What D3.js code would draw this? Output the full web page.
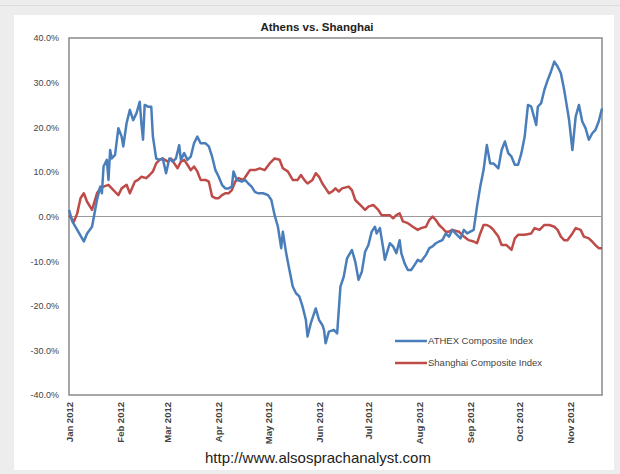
<!DOCTYPE html>
<html>
<head>
<meta charset="utf-8">
<script src="https://cdn.jsdelivr.net/npm/d3@7"></script>
<style>
  body { margin: 0; background: #ededed; }
  svg { display: block; }
</style>
</head>
<body>
<svg width="620" height="474"></svg>
<script>
// data: day offset from 1 Jan 2012, cumulative change in %
const athexDay = [0,2,5,9,11,14,17,19,20,21,23,24,25,26,28,30,32,33,35,37,39,41,43,44,45,46,48,50,51,53,55,57,59,61,63,65,67,68,70,72,74,76,78,80,83,85,87,89,91,93,95,97,99,100,102,105,107,109,111,113,115,118,121,123,125,127,129,130,132,134,136,138,140,142,144,145,147,150,152,154,155,156,158,161,163,165,167,169,172,174,176,178,180,182,184,186,187,189,191,192,195,197,199,201,202,204,206,208,210,212,214,217,219,221,223,225,227,229,231,233,235,238,240,242,244,246,248,250,252,254,256,258,261,263,265,267,269,271,273,275,277,279,281,284,285,287,289,291,293,295,297,299,301,303,304,306,308,310,312,314,316,318,320,322,324];
const athexVal = [1.5,-1.1,-3.0,-5.6,-3.8,-2.3,3.7,6.7,5.2,11.2,12.7,8.2,14.9,13.0,13.8,19.8,17.9,15.7,20.9,23.9,21.6,23.1,25.7,20.9,17.2,25.0,24.6,24.6,17.9,13.0,12.7,13.0,9.7,13.0,12.3,13.0,16.0,12.7,14.2,12.7,13.4,16.4,17.9,16.4,16.4,15.7,13.4,10.4,8.9,7.1,6.3,6.3,6.7,10.1,8.2,7.8,8.2,7.4,6.7,5.5,5.2,5.2,4.8,3.7,0.3,-2.3,-7.1,-3.4,-8.2,-12.0,-15.7,-17.2,-17.9,-20.2,-23.2,-26.9,-23.9,-20.6,-23.2,-24.3,-25.4,-28.4,-25.8,-25.4,-26.2,-15.7,-13.5,-9.4,-7.5,-10.1,-14.2,-12.4,-7.9,-6.4,-3.4,-2.3,-3.8,-2.6,-7.1,-9.7,-6.0,-6.7,-8.2,-5.3,-8.2,-10.5,-12.0,-12.0,-10.9,-9.7,-10.1,-8.6,-7.1,-6.7,-6.0,-5.6,-5.3,-3.8,-4.5,-3.0,-3.8,-4.9,-3.0,-3.8,-3.4,-3.0,2.2,6.7,10.4,16.0,11.9,11.9,10.8,14.9,16.8,14.2,13.4,11.6,11.6,14.2,17.9,25.0,24.6,20.5,24.6,25.4,28.4,30.6,32.5,34.7,33.6,32.1,28.4,23.9,21.6,14.9,22.4,25.0,21.3,19.8,17.2,18.6,19.4,21.3,24.2];

const shanghaiDay = [0,3,5,7,9,11,14,17,19,21,24,27,30,32,35,37,40,42,44,47,49,51,53,55,57,60,62,64,66,68,70,72,74,76,78,80,83,85,87,89,91,93,95,97,99,101,103,106,108,110,113,116,119,122,125,128,130,133,136,139,141,143,145,148,150,152,154,156,158,160,162,164,166,170,172,174,177,180,182,185,188,190,192,195,197,199,201,203,206,209,212,214,217,219,221,223,225,227,229,231,233,237,240,243,246,248,250,252,254,256,258,261,263,266,269,271,273,277,281,283,286,289,292,295,297,299,301,303,306,308,311,313,316,318,320,322,324];
const shanghaiVal = [0.3,-1.1,0.7,4.1,5.2,3.3,1.5,5.2,6.3,6.7,7.1,5.9,4.8,6.3,7.1,5.2,7.8,8.2,8.9,8.6,9.3,10.1,11.9,12.7,13.0,12.3,13.0,11.9,10.8,12.3,12.7,11.6,10.4,11.2,10.1,8.2,8.2,7.8,4.5,4.1,4.1,4.8,5.2,5.2,5.9,7.8,8.6,8.2,9.3,10.4,10.4,10.8,10.4,11.9,13.0,12.7,10.8,10.1,8.2,8.2,9.3,8.2,7.4,8.2,9.7,8.9,7.4,6.3,5.2,5.6,6.3,5.6,6.3,6.7,5.9,3.7,2.6,1.5,2.2,2.6,1.5,0.3,0.3,0.3,-0.4,0.3,0.7,-1.1,-1.5,-2.3,-3.0,-2.6,-2.3,-0.8,0.0,-0.8,-1.9,-2.6,-3.4,-3.4,-3.0,-3.4,-4.5,-5.3,-5.6,-6.0,-3.8,-1.9,-1.9,-2.3,-3.0,-4.5,-6.4,-6.4,-7.5,-4.9,-4.1,-4.1,-3.8,-2.6,-3.0,-1.9,-1.9,-2.3,-3.0,-4.5,-5.3,-5.3,-3.8,-2.6,-3.0,-4.5,-4.9,-5.6,-6.4,-7.1,-7.1];

const yTicks = [40,30,20,10,0,-10,-20,-30,-40];
const monthLabels = ["Jan 2012","Feb 2012","Mar 2012","Apr 2012","May 2012","Jun 2012","Jul 2012","Aug 2012","Sep 2012","Oct 2012","Nov 2012"];
const seriesNames = ["ATHEX Composite Index","Shanghai Composite Index"];
const seriesColors = ["#4a7ebb","#be4b48"];

const start = new Date(2012,0,1);
const toDate = d => d3.timeDay.offset(start, d);

const svg = d3.select('svg');
const font = '"Liberation Sans", Arial, sans-serif';

// chart background
svg.append('rect').attr('x',14).attr('y',15).attr('width',600).attr('height',455).attr('fill','#fff');
svg.append('line').attr('x1',0).attr('x2',620).attr('y1',5.5).attr('y2',5.5).attr('stroke','#dcdcdc');

const pLeft = 69, pRight = 602, pTop = 38, pBottom = 395;

const x = d3.scaleTime().domain([start, toDate(324)]).range([pLeft, pRight]);
const y = d3.scaleLinear().domain([-40,40]).range([pBottom, pTop]);

// plot frame
svg.append('rect')
    .attr('x',pLeft).attr('y',pTop).attr('width',pRight-pLeft).attr('height',pBottom-pTop)
    .attr('fill','#fff').attr('stroke','#8a8a8a').attr('stroke-width',1.5);

// zero line
svg.append('line')
    .attr('x1',pLeft).attr('x2',pRight).attr('y1',y(0)).attr('y2',y(0))
    .attr('stroke','#9a9a9a').attr('stroke-width',1);

// y axis labels
const yAxis = d3.axisLeft(y).tickValues(yTicks).tickSize(0).tickPadding(10)
    .tickFormat(d => d.toFixed(1) + '%');
svg.append('g').attr('transform',`translate(${pLeft},0)`).call(yAxis)
    .call(g => g.select('.domain').remove())
    .selectAll('text').attr('font-size',9).attr('fill','#444').attr('font-family',font);

// x axis labels, rotated
const monthDates = d3.range(monthLabels.length).map(i => new Date(2012,i,1));
const xAxis = d3.axisBottom(x).tickValues(monthDates).tickSize(0)
    .tickFormat((d,i) => monthLabels[i]);
svg.append('g').attr('transform',`translate(0,${pBottom})`).call(xAxis)
    .call(g => g.select('.domain').remove())
    .selectAll('text')
    .attr('font-size',9.5).attr('fill','#444').attr('font-family',font).attr('font-weight','bold')
    .attr('text-anchor','end').attr('dy','0.32em')
    .attr('transform','translate(0,7) rotate(-90)').attr('x',0).attr('y',0);

// lines
const line = d3.line().x(d => x(toDate(d[0]))).y(d => y(d[1]));
const series = [d3.zip(athexDay, athexVal), d3.zip(shanghaiDay, shanghaiVal)];

svg.append('g').selectAll('path')
    .data(series.slice().reverse())
    .join('path')
    .attr('d', line)
    .attr('fill','none')
    .attr('stroke',(d,i) => seriesColors[1-i])
    .attr('stroke-width',2.5)
    .attr('stroke-linejoin','round');

// legend
const legend = svg.append('g').attr('transform','translate(395,341)');
seriesNames.forEach((name,i) => {
  const row = legend.append('g').attr('transform',`translate(0,${i*22})`);
  row.append('line').attr('x1',0).attr('x2',32).attr('stroke',seriesColors[i]).attr('stroke-width',2.5);
  row.append('text').attr('x',33).attr('dy','0.35em').text(name)
    .attr('font-size',9.5).attr('fill','#444').attr('font-family',font);
});

// title
svg.append('text').attr('x',317).attr('y',31).attr('text-anchor','middle')
    .attr('font-size',11.5).attr('font-weight','bold').attr('fill','#222').attr('font-family',font)
    .text('Athens vs. Shanghai');

// source url
svg.append('text').attr('x',318).attr('y',463).attr('text-anchor','middle')
    .attr('font-size',15).attr('fill','#222').attr('font-family',font)
    .text('http://www.alsosprachanalyst.com');
</script>
</body>
</html>
